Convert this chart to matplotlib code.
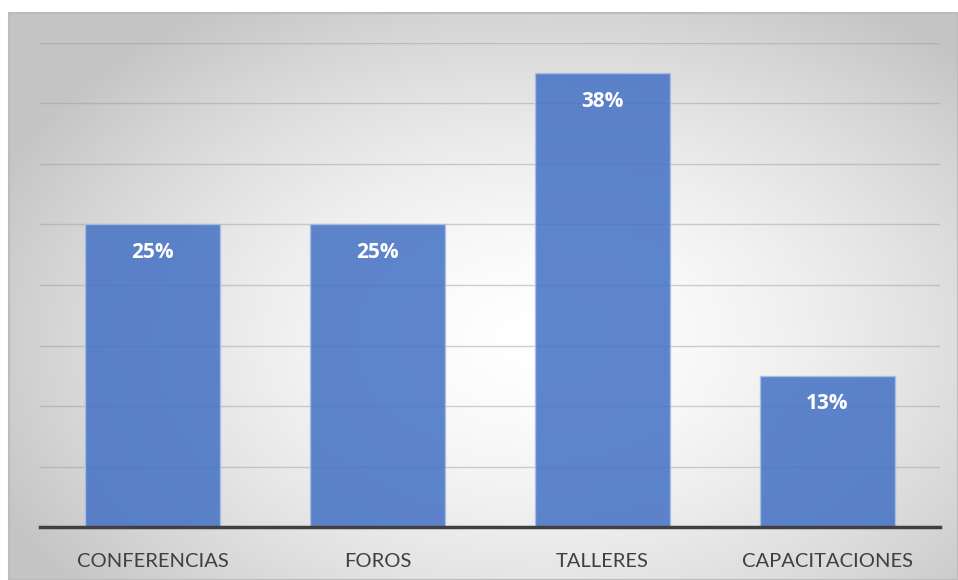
import numpy as np
import matplotlib.pyplot as plt
from matplotlib.patches import Rectangle

categories = ["CONFERENCIAS", "FOROS", "TALLERES", "CAPACITACIONES"]
percent = [25, 25, 37.5, 12.5]
labels = ["25%", "25%", "38%", "13%"]

W, H = 958, 580
fig = plt.figure(figsize=(W / 100, H / 100), dpi=100)
fig.patch.set_facecolor("white")

# chart area with a soft radial gradient (white centre, grey corners)
x0, y0 = 9, 13
bg = fig.add_axes([x0 / W, 0, 1 - x0 / W, 1 - y0 / H])
bg.set_axis_off()
xx, yy = np.meshgrid(np.linspace(x0, W, 400), np.linspace(y0, H, 300))
cx, cy = 540, 340
r = np.sqrt(((xx - cx) / 600) ** 2 + ((yy - cy) / 400) ** 2)
shade = 1 - 0.23 * np.clip(r, 0, 1) ** 1.6
bg.imshow(np.dstack([shade] * 3), extent=[0, 1, 0, 1], aspect="auto", origin="upper")
bg.add_patch(Rectangle((0, 0), 1, 1, transform=bg.transAxes, fill=False,
                       edgecolor="#bcbcbc", lw=1.5, clip_on=False))

ax = fig.add_axes([40 / W, 1 - 527 / H, 900 / W, (527 - 43) / H])
ax.patch.set_alpha(0)
x = np.arange(len(categories))

ax.set_ylim(0, 40)
ax.set_xlim(-0.5, len(categories) - 0.5)
ax.set_yticks(np.arange(5, 41, 5))
ax.yaxis.grid(True, color="#9a9a9a", alpha=0.45, lw=1)
ax.set_axisbelow(True)
ax.tick_params(axis="y", left=False, labelleft=False)
ax.tick_params(axis="x", length=0, pad=19)
for side in ["top", "right", "left"]:
    ax.spines[side].set_visible(False)
ax.spines["bottom"].set_color("#404040")
ax.spines["bottom"].set_linewidth(2.5)

bars = ax.bar(x, percent, width=0.6, color="#4472c4", alpha=0.86,
              edgecolor="#a9bfe8", linewidth=1)
ax.set_xticks(x)
ax.set_xticklabels(categories, fontsize=14.5, color="#404040", family=["Lato", "DejaVu Sans"])

for b, v, lab in zip(bars, percent, labels):
    ax.annotate(lab, (b.get_x() + b.get_width() / 2, v), xytext=(0, -28),
                textcoords="offset pixels", ha="center", va="center",
                color="white", fontsize=15, fontweight="bold",
                family=["Open Sans", "DejaVu Sans"])

fig.savefig("out.png", dpi=100)
